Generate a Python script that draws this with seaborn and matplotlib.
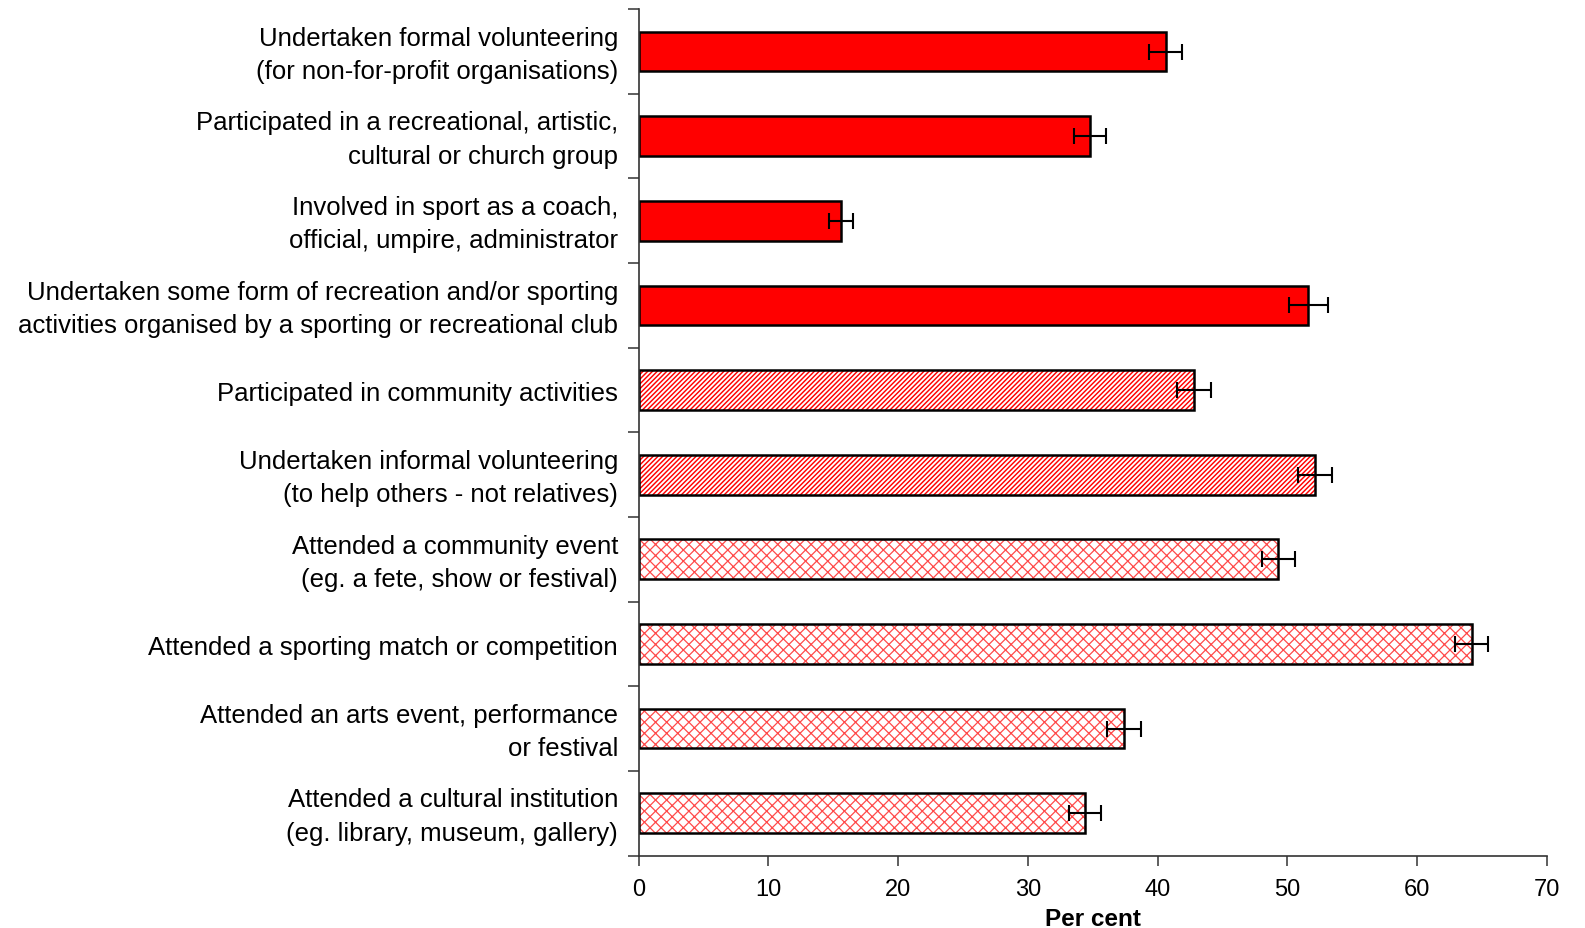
import matplotlib
matplotlib.use("Agg")
import matplotlib.pyplot as plt
import matplotlib.transforms as mtransforms
import seaborn as sns
import pandas as pd
import numpy as np

activities = [
    "Undertaken formal volunteering\n(for non-for-profit organisations)",
    "Participated in a recreational, artistic,\ncultural or church group",
    "Involved in sport as a coach,\nofficial, umpire, administrator",
    "Undertaken some form of recreation and/or sporting\nactivities organised by a sporting or recreational club",
    "Participated in community activities",
    "Undertaken informal volunteering\n(to help others - not relatives)",
    "Attended a community event\n(eg. a fete, show or festival)",
    "Attended a sporting match or competition",
    "Attended an arts event, performance\nor festival",
    "Attended a cultural institution\n(eg. library, museum, gallery)",
]
per_cent = [40.6, 34.8, 15.6, 51.6, 42.8, 52.1, 49.3, 64.2, 37.4, 34.4]
error_margin = [1.3, 1.25, 0.95, 1.5, 1.3, 1.3, 1.3, 1.25, 1.3, 1.25]
# participation type decides the fill: solid, striped or cross-hatched
style_group = ["solid"] * 4 + ["striped"] * 2 + ["crossed"] * 4

df = pd.DataFrame({"activity": activities, "pct": per_cent,
                   "err": error_margin, "group": style_group})

sns.set_theme(style="white")
plt.rcParams["font.family"] = ["Liberation Sans", "DejaVu Sans"]
plt.rcParams.update({"text.color": "black", "axes.labelcolor": "black",
                     "xtick.color": "black", "ytick.color": "black"})

fig, ax = plt.subplots(figsize=(15.85, 9.29), dpi=100)
fig.subplots_adjust(left=0.403, right=0.976, top=0.989, bottom=0.078)

bar_w = 0.47

# filled / hatched layer
sns.barplot(data=df, x="pct", y="activity", orient="h", errorbar=None,
            width=bar_w, color="red", linewidth=0, ax=ax)
for patch, grp in zip(ax.patches, df["group"]):
    if grp == "solid":
        patch.set_facecolor("#ff0000")
        patch.set_edgecolor("none")
    elif grp == "striped":
        patch.set_facecolor("white")
        patch.set_hatch("///////")
        patch.set_edgecolor("#ff0000")
        patch.set_linewidth(0)
        if hasattr(patch, "set_hatch_linewidth"):
            patch.set_hatch_linewidth(1.05)
    else:
        patch.set_facecolor("white")
        patch.set_hatch("xxx")
        patch.set_edgecolor("#ff4a4a")
        patch.set_linewidth(0)
        if hasattr(patch, "set_hatch_linewidth"):
            patch.set_hatch_linewidth(0.9)

# black outline layer
sns.barplot(data=df, x="pct", y="activity", orient="h", errorbar=None,
            width=bar_w, fill=False, edgecolor="black", linewidth=1.8, ax=ax)

ypos = np.arange(len(df))
ax.errorbar(df["pct"], ypos, xerr=df["err"], fmt="none", ecolor="black",
            elinewidth=1.5, capsize=5.5, capthick=1.5, zorder=5)

ax.set_xlim(0, 70)
ax.set_ylim(len(df) - 0.5, -0.5)
ax.set_xticks(np.arange(0, 71, 10))
ax.set_xlabel("Per cent", fontsize=17.5, fontweight="bold", labelpad=5)
ax.set_ylabel("")

ax.set_yticks(ypos)
ax.set_yticklabels(df["activity"], fontsize=18.5, linespacing=1.48,
                   va="center")
ax.set_yticks(np.arange(-0.5, len(df)), minor=True)
ax.tick_params(axis="y", which="major", length=0, pad=15)
ax.tick_params(axis="y", which="minor", length=8, width=1.1, color="#333333",
               direction="out", left=True)
ax.tick_params(axis="x", which="major", length=7, width=1.1, color="#333333",
               direction="out", bottom=True, labelsize=17, pad=9)

# nudge the category labels slightly downward
nudge = mtransforms.ScaledTranslation(0, -2.0 / 72, fig.dpi_scale_trans)
for lbl in ax.get_yticklabels():
    lbl.set_transform(lbl.get_transform() + nudge)

for side in ("top", "right"):
    ax.spines[side].set_visible(False)
for side in ("left", "bottom"):
    ax.spines[side].set_color("#333333")
    ax.spines[side].set_linewidth(1.2)
ax.grid(False)

fig.savefig("out.png", dpi=100, facecolor="white")
